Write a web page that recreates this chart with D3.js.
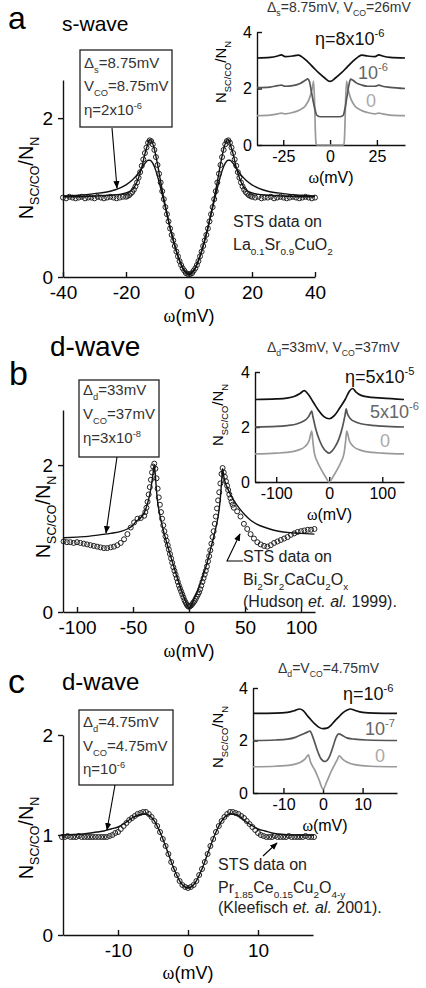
<!DOCTYPE html>
<html>
<head>
<meta charset="utf-8">
<script src="https://cdn.jsdelivr.net/npm/d3@7"></script>
<style>
  body { margin: 0; background: #fff; }
  svg text { font-family: "Liberation Sans", Arial, sans-serif; }
</style>
</head>
<body>
<div id="graf"></div>
<script>
// ---------- Panel a (onda s) ----------
const omegaDatosA = [...d3.range(-40, -20, 1), ...d3.range(-20, 20.01, 0.5), ...d3.range(21, 40.01, 1)]
const datosA = [
  1.00, 0.99, 1.01, 1.00, 0.99, 1.00, 1.01, 0.99, 1.00, 1.00, 0.99, 1.01, 1.00, 0.99, 1.00, 1.01, 1.00, 0.99, 1.00, 1.01,
  1.01, 1.02, 1.03, 1.05, 1.07, 1.10, 1.14, 1.19, 1.25, 1.32, 1.40, 1.48, 1.56, 1.63, 1.69, 1.72, 1.71, 1.67, 1.60, 1.51,
  1.41, 1.30, 1.19, 1.08, 0.98, 0.88, 0.79, 0.70, 0.61, 0.53, 0.46, 0.39, 0.32, 0.26, 0.20, 0.15, 0.11, 0.08, 0.05, 0.04,
  0.03,
  0.04, 0.05, 0.08, 0.11, 0.15, 0.20, 0.26, 0.32, 0.39, 0.46, 0.53, 0.61, 0.70, 0.79, 0.88, 0.98, 1.08, 1.19, 1.30, 1.41,
  1.51, 1.60, 1.67, 1.71, 1.72, 1.69, 1.63, 1.56, 1.48, 1.40, 1.32, 1.25, 1.19, 1.14, 1.10, 1.07, 1.05, 1.03, 1.02, 1.01,
  1.00, 1.01, 0.99, 1.00, 1.00, 1.01, 0.99, 1.00, 1.01, 1.00, 0.99, 1.00, 1.01, 1.00, 0.99, 1.00, 1.01, 1.00, 0.99, 1.00
]
const omegaAjusteA = [-40, -35, -30, -25, -22, -20, -18, -16, -15, -14, -13, -12.5, -12, -11, -10, -9, -8, -7, -6, -5, -4, -3, -2, -1,
  0, 1, 2, 3, 4, 5, 6, 7, 8, 9, 10, 11, 12, 12.5, 13, 14, 15, 16, 18, 20, 22, 25, 30, 35, 40]
const ajusteA1 = [1.01, 1.01, 1.02, 1.03, 1.04, 1.06, 1.10, 1.25, 1.38, 1.55, 1.68, 1.73, 1.72, 1.61, 1.42, 1.20, 0.99, 0.80, 0.62, 0.46, 0.32, 0.20, 0.11, 0.05,
  0.03, 0.05, 0.11, 0.20, 0.32, 0.46, 0.62, 0.80, 0.99, 1.20, 1.42, 1.61, 1.72, 1.73, 1.68, 1.55, 1.38, 1.25, 1.10, 1.06, 1.04, 1.03, 1.02, 1.01, 1.01]
const ajusteA2 = [1.02, 1.03, 1.05, 1.08, 1.12, 1.16, 1.22, 1.31, 1.37, 1.43, 1.47, 1.47, 1.46, 1.39, 1.27, 1.12, 0.96, 0.79, 0.62, 0.47, 0.33, 0.21, 0.12, 0.06,
  0.04, 0.06, 0.12, 0.21, 0.33, 0.47, 0.62, 0.79, 0.96, 1.12, 1.27, 1.39, 1.46, 1.47, 1.47, 1.43, 1.37, 1.31, 1.22, 1.16, 1.12, 1.08, 1.05, 1.03, 1.02]

// Recuadro de a
const omegaInsA3 = [-39, -32, -28, -26, -24, -20, -17, -15, -12, -9, -6, -3, 0, 3, 6, 9, 12, 15, 17, 20, 24, 26, 28, 32, 40]
const insA3 = [3.08, 3.10, 3.15, 3.19, 3.13, 3.15, 3.18, 3.12, 2.95, 2.75, 2.55, 2.38, 2.25, 2.38, 2.55, 2.75, 2.95, 3.12, 3.18, 3.15, 3.13, 3.19, 3.15, 3.10, 3.08]
const omegaInsA2 = [-39, -32, -28, -26, -24, -20, -16, -13, -12, -11, -10, -9, -8, -7, -5, 0, 5, 7, 8, 9, 10, 11, 12, 14, 17, 20, 24, 26, 28, 32, 40]
const insA2 = [2.03, 2.05, 2.10, 2.12, 2.08, 2.10, 2.18, 2.30, 2.34, 2.25, 1.90, 1.55, 1.25, 1.05, 1.00, 1.00, 1.00, 1.05, 1.30, 1.70, 2.10, 2.33, 2.30, 2.20, 2.12, 2.08, 2.08, 2.12, 2.08, 2.04, 2.00]
const omegaInsA1 = [-39, -32, -28, -26, -24, -20, -16, -13, -11, -9.5, -8.8, -8.3, -7.9, -7.5, -7, 7, 7.5, 7.9, 8.3, 8.8, 9.5, 11, 13, 16, 20, 24, 26, 28, 32, 40]
const insA1 = [1.04, 1.06, 1.10, 1.13, 1.10, 1.15, 1.25, 1.40, 1.65, 2.00, 2.25, 1.60, 0.60, 0.05, 0, 0, 0.05, 0.60, 1.60, 2.25, 2.00, 1.65, 1.40, 1.25, 1.15, 1.10, 1.13, 1.10, 1.06, 1.04]

// ---------- Panel b (onda d, Bi2212) ----------
const omegaDatosB = [...d3.range(-112, -40, 3), ...d3.range(-40, 40.01, 1), ...d3.range(43, 112.01, 3)]
const datosB = [
  0.96, 0.95, 0.95, 0.94, 0.95, 0.94, 0.93, 0.92, 0.91, 0.90, 0.89, 0.88, 0.87, 0.87, 0.88, 0.89, 0.91, 0.94, 0.99, 1.06, 1.15, 1.22, 1.27, 1.28,
  1.31, 1.36, 1.42, 1.50, 1.60, 1.70, 1.80, 1.90, 1.98, 2.02, 1.95, 1.82, 1.68, 1.56, 1.46, 1.36, 1.27, 1.18, 1.10, 1.03,
  0.97, 0.91, 0.85, 0.79, 0.73, 0.67, 0.61, 0.56, 0.51, 0.46, 0.41, 0.36, 0.32, 0.28, 0.24, 0.20, 0.16, 0.13, 0.10, 0.08,
  0.07,
  0.08, 0.09, 0.11, 0.13, 0.15, 0.18, 0.21, 0.24, 0.27, 0.31, 0.36, 0.41, 0.46, 0.51, 0.56, 0.62, 0.69, 0.76, 0.84, 0.93,
  1.02, 1.10, 1.20, 1.30, 1.41, 1.52, 1.63, 1.75, 1.88, 1.96, 1.90, 1.84, 1.78, 1.72, 1.66, 1.60, 1.55, 1.50, 1.46, 1.42,
  1.37, 1.30, 1.20, 1.13, 1.06, 1.00, 0.95, 0.92, 0.90, 0.89, 0.91, 0.94, 0.96, 0.98, 1.00, 1.02, 1.05, 1.07, 1.09, 1.10, 1.11, 1.12, 1.12, 1.13
]
const omegaAjusteB = [-112, -100, -90, -80, -70, -60, -55, -50, -47, -44, -40, -37, -35, -33, -32, -31, -30, -29, -28, -26,
  -24, -20, -16, -12, -8, -4, 0, 4, 8, 12, 16, 20, 24, 26, 28, 29, 30, 31, 32, 34, 37, 40, 45, 50, 55, 60, 70, 80, 90, 100, 112]
const ajusteB = [1.01, 1.02, 1.03, 1.05, 1.07, 1.10, 1.13, 1.18, 1.24, 1.27, 1.35, 1.48, 1.60, 1.78, 1.90, 2.00, 1.85, 1.65, 1.50, 1.32,
  1.18, 0.95, 0.74, 0.54, 0.35, 0.18, 0.05, 0.16, 0.30, 0.47, 0.66, 0.90, 1.15, 1.30, 1.55, 1.75, 1.95,
  1.85, 1.78, 1.70, 1.60, 1.52, 1.41, 1.32, 1.25, 1.20, 1.14, 1.10, 1.08, 1.07, 1.06]

// Recuadro de b
const omegaInsB3 = [-140, -100, -80, -65, -55, -47, -40, -30, -20, -10, 0, 10, 20, 30, 38, 44, 50, 60, 80, 100, 141]
const insB3 = [3.00, 3.02, 3.05, 3.12, 3.22, 3.32, 3.20, 2.90, 2.60, 2.38, 2.30, 2.42, 2.70, 3.00, 3.30, 3.40, 3.28, 3.15, 3.08, 3.05, 3.00]
const omegaInsB2 = [-140, -100, -80, -60, -50, -40, -35, -33, -31, -25, -18, -10, -5, 0, 5, 10, 18, 25, 30, 32, 34, 40, 50, 60, 80, 100, 141]
const insB2 = [2.00, 2.02, 2.05, 2.12, 2.20, 2.35, 2.52, 2.58, 2.40, 1.90, 1.50, 1.20, 1.10, 1.05, 1.12, 1.25, 1.55, 2.00, 2.45, 2.66, 2.50, 2.30, 2.18, 2.12, 2.06, 2.03, 2.00]
const omegaInsB1 = [-140, -100, -80, -60, -45, -38, -33, -31, -28, -22, -15, -8, 0, 8, 15, 22, 28, 31, 33, 38, 45, 60, 80, 100, 141]
const insB1 = [1.02, 1.05, 1.08, 1.15, 1.30, 1.50, 1.85, 1.50, 1.05, 0.72, 0.45, 0.22, 0.00, 0.22, 0.45, 0.72, 1.05, 1.50, 1.85, 1.50, 1.30, 1.15, 1.08, 1.05, 1.02]

// ---------- Panel c (onda d, PCCO) ----------
const omegaDatosC = d3.range(-18, 18.01, 0.4)
const datosC = [
  0.98, 0.98, 0.99, 0.98, 0.98, 0.98, 0.99, 0.98, 0.98, 0.98, 0.98, 0.98, 0.98, 0.98, 0.98, 0.98, 0.98, 0.99,
  1.00, 1.02, 1.03, 1.06, 1.09, 1.12, 1.15, 1.17, 1.19, 1.21, 1.22, 1.23, 1.23, 1.21, 1.18, 1.14, 1.09, 1.03,
  0.96, 0.89, 0.81, 0.73, 0.66, 0.60, 0.54, 0.50, 0.48,
  0.47,
  0.48, 0.50, 0.54, 0.60, 0.66, 0.73, 0.81, 0.89, 0.96, 1.03, 1.09, 1.14, 1.18, 1.21, 1.23, 1.23, 1.22, 1.21,
  1.19, 1.17, 1.14, 1.11, 1.08, 1.05, 1.02, 1.00, 0.99,
  0.98, 0.98, 0.98, 0.99, 0.98, 0.98, 0.98, 0.98, 0.99, 0.98, 0.98, 0.98, 0.98, 0.98, 0.99, 0.98, 0.98, 0.98
]
const omegaAjusteC = [-18, -15, -13, -12, -11, -10, -9, -8, -7, -6.2, -5, -4, -3, -2, -1, 0, 1, 2, 3, 4, 5, 6.1, 7, 8, 9, 10, 11, 12, 13, 15, 18]
const ajusteC = [1.00, 1.01, 1.03, 1.04, 1.06, 1.08, 1.12, 1.17, 1.20, 1.21, 1.16, 1.03, 0.85, 0.66, 0.52, 0.47, 0.52, 0.66, 0.85, 1.03, 1.16, 1.21, 1.20, 1.15, 1.10, 1.06, 1.04, 1.02, 1.01, 1.00, 1.00]

// Recuadro de c
const omegaInsC3 = [-17.7, -12, -9, -7, -6, -5, -4, -3, -2, -1, 0, 1, 2, 3, 4, 5, 6, 7, 8, 10, 13, 18.7]
const insC3 = [3.03, 3.04, 3.07, 3.15, 3.20, 3.14, 2.95, 2.78, 2.62, 2.50, 2.45, 2.47, 2.58, 2.75, 2.90, 3.05, 3.15, 3.20, 3.15, 3.07, 3.04, 3.03]
const omegaInsC2 = [-17.7, -12, -9, -7, -5, -4, -3.3, -2.5, -1.5, -0.5, 0.5, 1.5, 2.5, 3.3, 4, 5, 6, 8, 11, 18.7]
const insC2 = [2.00, 2.02, 2.05, 2.12, 2.25, 2.32, 2.36, 2.10, 1.65, 1.30, 1.20, 1.35, 1.75, 2.12, 2.25, 2.18, 2.10, 2.05, 2.02, 2.00]
const omegaInsC1 = [-17.7, -12, -8, -6, -4.5, -3.7, -3.2, -2, -1, 0, 1, 2, 3, 3.7, 4.1, 5, 6, 8, 12, 18.7]
const insC1 = [1.00, 1.02, 1.07, 1.15, 1.30, 1.45, 1.20, 0.85, 0.50, 0.15, 0.45, 0.80, 1.10, 1.30, 1.42, 1.28, 1.18, 1.08, 1.02, 1.00]

// Ticks
const ticksXA = [-40, -20, 0, 20, 40]
const ticksXB = [-100, -50, 0, 50, 100]
const ticksXC = [-10, 0, 10]
const ticksYAB = [0, 2]
const ticksYC = [0, 1, 2]
const ticksInsXA = [-25, 0, 25]
const ticksInsXB = [-100, 0, 100]
const ticksInsXC = [-10, 0, 10]
const ticksInsY = [0, 2, 4]

// Lienzo
const svg = d3.select('#graf').append('svg').attr('width', 426).attr('height', 988)

svg.append('defs').append('marker')
  .attr('id', 'flecha')
  .attr('viewBox', '0 0 10 10')
  .attr('refX', 9).attr('refY', 5)
  .attr('markerWidth', 7).attr('markerHeight', 7)
  .attr('orient', 'auto')
  .append('path')
  .attr('d', 'M0,1 L10,5 L0,9 Z')
  .attr('fill', '#000')

// Texto con subindices / superindices
const richText = (g, x, y, parts, size, opts = {}) => {
  const t = g.append('text')
    .attr('x', x).attr('y', y)
    .attr('font-size', size)
    .attr('text-anchor', opts.anchor || 'start')
    .attr('fill', opts.fill || '#000')
  if (opts.rotate) t.attr('transform', `rotate(-90, ${x}, ${y})`)
  let shift = 0
  parts.forEach(([txt, mode]) => {
    const target = mode === 'sub' ? size * 0.32 : mode === 'sup' ? -size * 0.42 : 0
    const small = mode === 'sub' || mode === 'sup'
    t.append('tspan')
      .attr('dy', target - shift)
      .attr('font-size', small ? size * 0.62 : size)
      .attr('font-style', mode === 'it' ? 'italic' : null)
      .attr('font-family', mode === 'w' ? '"Liberation Serif", serif' : null)
      .text(txt)
    shift = target
  })
  return t
}

const labelY = [['N'], ['SC/CO', 'sub'], ['/N'], ['N', 'sub']]
const labelX = [['ω', 'w'], ['(mV)']]

const linea = (x, y) => d3.line().x(d => x(d[0])).y(d => y(d[1])).curve(d3.curveMonotoneX)

// Grafica principal
const drawMain = (cfg) => {
  const g = svg.append('g')
  const x = d3.scaleLinear().domain(cfg.xDomain).range(cfg.xRange)
  const y = d3.scaleLinear().domain(cfg.yDomain).range(cfg.yRange)

  const xAxis = g.append('g')
    .attr('transform', `translate(0, ${cfg.yRange[0]})`)
    .call(d3.axisBottom(x).tickValues(cfg.xTicks).tickSizeInner(-5).tickSizeOuter(0).tickPadding(9).tickFormat(d => d))
  const yAxis = g.append('g')
    .attr('transform', `translate(${cfg.xRange[0]}, 0)`)
    .call(d3.axisLeft(y).tickValues(cfg.yTicks).tickSizeInner(5).tickSizeOuter(0).tickPadding(5).tickFormat(d => d))
  ;[xAxis, yAxis].forEach(a => {
    a.attr('font-size', 19).attr('font-family', '"Liberation Sans", Arial, sans-serif')
    a.selectAll('path, line').attr('stroke', '#111').attr('stroke-width', 1.4)
  })

  // Datos STS
  g.append('g')
    .selectAll('circle')
    .data(d3.zip(cfg.dataX, cfg.dataY))
    .join('circle')
    .attr('cx', d => x(d[0]))
    .attr('cy', d => y(d[1]))
    .attr('r', 2.5)
    .attr('fill', 'none')
    .attr('stroke', '#222')
    .attr('stroke-width', 1)

  // Ajustes
  cfg.fits.forEach(f => {
    g.append('path')
      .datum(d3.zip(f.x, f.y))
      .attr('d', linea(x, y))
      .attr('fill', 'none')
      .attr('stroke', '#111')
      .attr('stroke-width', 1.4)
  })

  richText(g, (cfg.xRange[0] + cfg.xRange[1]) / 2, cfg.xLabelY, labelX, 18, { anchor: 'middle' })
  richText(g, cfg.yLabel[0], cfg.yLabel[1], labelY, 20, { anchor: 'middle', rotate: true })
}

// Recuadro
const drawInset = (cfg) => {
  const g = svg.append('g')
  const x = d3.scaleLinear().domain(cfg.xDomain).range(cfg.xRange)
  const y = d3.scaleLinear().domain([0, 4]).range(cfg.yRange)

  const xAxis = g.append('g')
    .attr('transform', `translate(0, ${cfg.yRange[0]})`)
    .call(d3.axisBottom(x).tickValues(cfg.xTicks).tickSizeInner(-5).tickSizeOuter(0).tickPadding(6).tickFormat(d => d))
  const yAxis = g.append('g')
    .attr('transform', `translate(${cfg.xRange[0]}, 0)`)
    .call(d3.axisLeft(y).tickValues(ticksInsY).tickSizeInner(-5).tickSizeOuter(0).tickPadding(5).tickFormat(d => d))
  ;[xAxis, yAxis].forEach(a => {
    a.attr('font-size', 16).attr('font-family', '"Liberation Sans", Arial, sans-serif')
    a.selectAll('path, line').attr('stroke', '#111').attr('stroke-width', 1.4)
  })

  cfg.curves.forEach(c => {
    g.append('path')
      .datum(d3.zip(c.x, c.y))
      .attr('d', linea(x, y))
      .attr('fill', 'none')
      .attr('stroke', c.color)
      .attr('stroke-width', 1.7)
  })

  cfg.labels.forEach(l => richText(g, l.x, l.y, l.parts, 18, { fill: l.color }))
  richText(g, cfg.title[0], cfg.title[1], cfg.titleParts, 14, { fill: '#333' })
  richText(g, (cfg.xRange[0] + cfg.xRange[1]) / 2, cfg.xLabelY, labelX, 16, { anchor: 'middle' })
  richText(g, cfg.yLabel[0], cfg.yLabel[1], labelY, 15, { anchor: 'middle', rotate: true })
}

// Cuadro de parametros con flecha
const drawBox = (box, lines, arrow) => {
  const g = svg.append('g')
  g.append('rect')
    .attr('x', box[0]).attr('y', box[1]).attr('width', box[2]).attr('height', box[3])
    .attr('fill', '#fff').attr('stroke', '#222').attr('stroke-width', 1.3)
  lines.forEach(l => richText(g, box[0] + 4, l.y, l.parts, 15, { fill: '#333' }))
  g.append('path')
    .attr('d', d3.line()(arrow))
    .attr('fill', 'none').attr('stroke', '#000').attr('stroke-width', 1.1)
    .attr('marker-end', 'url(#flecha)')
}

const drawNote = (x, lines, arrow) => {
  const g = svg.append('g')
  lines.forEach(l => richText(g, x, l.y, l.parts, 16, { fill: '#222' }))
  if (arrow) {
    g.append('path')
      .attr('d', d3.line()(arrow))
      .attr('fill', 'none').attr('stroke', '#000').attr('stroke-width', 1.1)
      .attr('marker-end', 'url(#flecha)')
  }
}

const panelLetter = (txt, x, y, size) => svg.append('text').attr('x', x).attr('y', y).attr('font-size', size).text(txt)

// ---- a ----
panelLetter('a', 8, 29, 32)
panelLetter('s-wave', 62, 31, 21)
drawMain({
  xDomain: [-40, 40], xRange: [63, 315], yDomain: [0, 2.48], yRange: [277, 80],
  xTicks: ticksXA, yTicks: ticksYAB, xLabelY: 322, yLabel: [33, 178],
  dataX: omegaDatosA, dataY: datosA,
  fits: [{ x: omegaAjusteA, y: ajusteA1 }, { x: omegaAjusteA, y: ajusteA2 }]
})
drawBox([80, 50, 92, 77], [
  { y: 68, parts: [['Δ'], ['s', 'sub'], ['=8.75mV']] },
  { y: 91, parts: [['V'], ['CO', 'sub'], ['=8.75mV']] },
  { y: 115, parts: [['η=2x10'], ['-6', 'sup']] }
], [[112, 128], [117, 188]])
drawNote(233, [
  { y: 227, parts: [['STS data on']] },
  { y: 250, parts: [['La'], ['0.1', 'sub'], ['Sr'], ['0.9', 'sub'], ['CuO'], ['2', 'sub']] }
])
drawInset({
  xDomain: [-39, 40], xRange: [257, 405], yRange: [145, 32], xTicks: ticksInsXA,
  xLabelY: 183, yLabel: [226, 72], title: [267, 12],
  titleParts: [['Δ'], ['s', 'sub'], ['=8.75mV, V'], ['CO', 'sub'], ['=26mV']],
  curves: [
    { x: omegaInsA1, y: insA1, color: '#9a9a9a' },
    { x: omegaInsA2, y: insA2, color: '#555' },
    { x: omegaInsA3, y: insA3, color: '#111' }
  ],
  labels: [
    { x: 315, y: 45, parts: [['η=8x10'], ['-6', 'sup']], color: '#111' },
    { x: 358, y: 79, parts: [['10'], ['-6', 'sup']], color: '#666' },
    { x: 366, y: 107, parts: [['0']], color: '#aaa' }
  ]
})

// ---- b ----
panelLetter('b', 9, 385, 34)
panelLetter('d-wave', 50, 356, 28)
drawMain({
  xDomain: [-112.5, 112.5], xRange: [63, 315], yDomain: [0, 2.75], yRange: [612, 410],
  xTicks: ticksXB, yTicks: ticksYAB, xLabelY: 657, yLabel: [50, 517],
  dataX: omegaDatosB, dataY: datosB,
  fits: [{ x: omegaAjusteB, y: ajusteB }]
})
drawBox([79, 380, 80, 77], [
  { y: 395, parts: [['Δ'], ['d', 'sub'], ['=33mV']] },
  { y: 419, parts: [['V'], ['CO', 'sub'], ['=37mV']] },
  { y: 443, parts: [['η=3x10'], ['-8', 'sup']] }
], [[117, 457], [106, 533]])
drawNote(243, [
  { y: 562, parts: [['STS data on']] },
  { y: 585, parts: [['Bi'], ['2', 'sub'], ['Sr'], ['2', 'sub'], ['CaCu'], ['2', 'sub'], ['O'], ['x', 'sub']] },
  { y: 607, parts: [['(Hudson '], ['et. al.', 'it'], [' 1999).']] }
], [[243, 561], [227, 561], [240, 534]])
drawInset({
  xDomain: [-140, 141], xRange: [255, 404], yRange: [482, 372], xTicks: ticksInsXB,
  xLabelY: 520, yLabel: [223, 415], title: [267, 352],
  titleParts: [['Δ'], ['d', 'sub'], ['=33mV, V'], ['CO', 'sub'], ['=37mV']],
  curves: [
    { x: omegaInsB1, y: insB1, color: '#9a9a9a' },
    { x: omegaInsB2, y: insB2, color: '#555' },
    { x: omegaInsB3, y: insB3, color: '#111' }
  ],
  labels: [
    { x: 345, y: 383, parts: [['η=5x10'], ['-5', 'sup']], color: '#111' },
    { x: 370, y: 418, parts: [['5x10'], ['-6', 'sup']], color: '#666' },
    { x: 380, y: 447, parts: [['0']], color: '#aaa' }
  ]
})

// ---- c ----
panelLetter('c', 8, 693, 34)
panelLetter('d-wave', 62, 690, 24)
drawMain({
  xDomain: [-17.86, 17.86], xRange: [63, 313], yDomain: [0, 2], yRange: [935, 735],
  xTicks: ticksXC, yTicks: ticksYC, xLabelY: 979, yLabel: [33, 838],
  dataX: omegaDatosC, dataY: datosC,
  fits: [{ x: omegaAjusteC, y: ajusteC }]
})
drawBox([79, 710, 94, 75], [
  { y: 727, parts: [['Δ'], ['d', 'sub'], ['=4.75mV']] },
  { y: 751, parts: [['V'], ['CO', 'sub'], ['=4.75mV']] },
  { y: 774, parts: [['η=10'], ['-6', 'sup']] }
], [[115, 785], [107, 830]])
drawNote(218, [
  { y: 870, parts: [['STS data on']] },
  { y: 893, parts: [['Pr'], ['1.85', 'sub'], ['Ce'], ['0.15', 'sub'], ['Cu'], ['2', 'sub'], ['O'], ['4-y', 'sub']] },
  { y: 913, parts: [['(Kleefisch '], ['et. al.', 'it'], [' 2001).']] }
], [[263, 856], [277, 843]])
drawInset({
  xDomain: [-17.7, 18.7], xRange: [253, 397], yRange: [793, 688], xTicks: ticksInsXC,
  xLabelY: 831, yLabel: [223, 737], title: [278, 673],
  titleParts: [['Δ'], ['d', 'sub'], ['=V'], ['CO', 'sub'], ['=4.75mV']],
  curves: [
    { x: omegaInsC1, y: insC1, color: '#9a9a9a' },
    { x: omegaInsC2, y: insC2, color: '#555' },
    { x: omegaInsC3, y: insC3, color: '#111' }
  ],
  labels: [
    { x: 343, y: 700, parts: [['η=10'], ['-6', 'sup']], color: '#111' },
    { x: 365, y: 735, parts: [['10'], ['-7', 'sup']], color: '#666' },
    { x: 375, y: 762, parts: [['0']], color: '#aaa' }
  ]
})
</script>
</body>
</html>
